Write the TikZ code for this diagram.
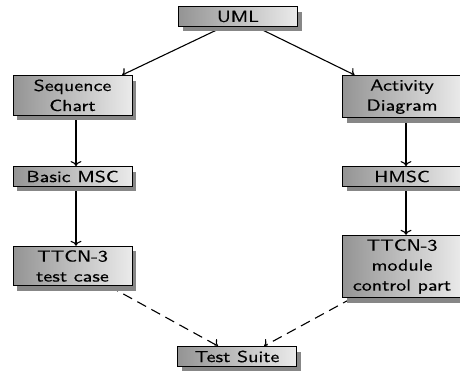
\documentclass[tikz,border=0pt]{standalone}
\usepackage{fontspec}
\usetikzlibrary{shadows,arrows.meta,backgrounds}
\newfontfamily\boxfont{lmsans10-regular.otf}[FakeStretch=1.25,FakeBold=0.5]
\begin{document}
\begin{tikzpicture}[x=1pt,y=-1pt,
  box/.style={draw=black, line width=1pt, left color=black!42, right color=black!8,
    drop shadow={shadow xshift=4pt, shadow yshift=-5pt, fill=black!47, opacity=1},
    minimum width=119pt, inner xsep=6pt, inner ysep=4pt, align=center,
    font=\boxfont\fontsize{16}{20}\selectfont},
  conn/.style={line width=1.1pt, -{To[length=5pt,width=11pt]}},
  dconn/.style={conn, dash pattern=on 10pt off 6pt}]
\useasboundingbox (0,0) rectangle (460,373);
\node[box] (uml) at (238,16.5) {UML};
\node[box, anchor=north] (seq) at (72.5,75) {Sequence\\Chart};
\node[box, anchor=north] (act) at (402,75) {Activity\\Diagram};
\node[box] (bmsc) at (72.5,176.5) {Basic MSC};
\node[box] (hmsc) at (402,176.5) {HMSC};
\node[box] (tc) at (72.5,266) {TTCN-3\\test case};
\node[box] (mod) at (402,266.5) {TTCN-3\\module\\control part};
\node[box] (ts) at (237,356.5) {Test Suite};
\begin{scope}[on background layer]
  \draw[conn, transform canvas={xshift=7pt}] (uml) -- (seq);
  \draw[conn, transform canvas={xshift=-3pt}] (uml) -- (act);
  \draw[conn, transform canvas={xshift=3.5pt}] (seq) -- (bmsc);
  \draw[conn, transform canvas={xshift=3.5pt}] (bmsc) -- (tc);
  \draw[conn, transform canvas={xshift=4pt}] (act) -- (hmsc);
  \draw[conn, transform canvas={xshift=4pt}] (hmsc) -- (mod);
  \draw[dconn] (tc) -- (ts);
  \draw[dconn, transform canvas={xshift=8pt}] (mod) -- (ts);
\end{scope}
\end{tikzpicture}
\end{document}
